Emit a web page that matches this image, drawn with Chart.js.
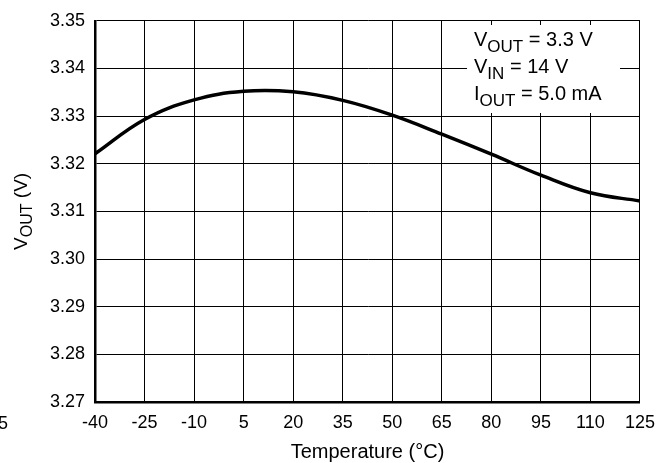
<!DOCTYPE html>
<html>
<head>
<meta charset="utf-8">
<script src="https://cdn.jsdelivr.net/npm/chart.js@4.4.1/dist/chart.umd.min.js"></script>
<style>
  html, body { margin: 0; padding: 0; background: #fff; }
  #wrap { width: 665px; height: 463px; }
</style>
</head>
<body>
<div id="wrap"><canvas id="voutChart"></canvas></div>
<script>
// Output voltage vs. temperature
const temperatures = [-40, -25, -10, 5, 20, 35, 50, 65, 80, 95, 110, 125];
const voutValues = [3.3221, 3.3293, 3.3334, 3.3352, 3.3351, 3.3333, 3.3302, 3.3262, 3.3220, 3.3176, 3.3139, 3.3122];
const xTicks = [-40, -25, -10, 5, 20, 35, 50, 65, 80, 95, 110, 125];
const yTicks = [3.27, 3.28, 3.29, 3.30, 3.31, 3.32, 3.33, 3.34, 3.35];
const conditions = [
    ['V', 'OUT', ' = 3.3 V'],
    ['V', 'IN', ' = 14 V'],
    ['I', 'OUT', ' = 5.0 mA']
];

const FONT = "'Liberation Sans', Arial, Helvetica, sans-serif";

// draws text with a lowered subscript part: [main, sub, rest]
function drawSubText(ctx, parts, x, y, mainSize, subSize, drop) {
    ctx.font = mainSize + 'px ' + FONT;
    ctx.fillText(parts[0], x, y);
    x += ctx.measureText(parts[0]).width;
    ctx.font = subSize + 'px ' + FONT;
    ctx.fillText(parts[1], x, y + drop);
    x += ctx.measureText(parts[1]).width;
    ctx.font = mainSize + 'px ' + FONT;
    ctx.fillText(parts[2], x, y);
}

function subTextWidth(ctx, parts, mainSize, subSize) {
    ctx.font = mainSize + 'px ' + FONT;
    let w = ctx.measureText(parts[0]).width + ctx.measureText(parts[2]).width;
    ctx.font = subSize + 'px ' + FONT;
    return w + ctx.measureText(parts[1]).width;
}

const annotations = {
    id: 'annotations',
    beforeDatasetsDraw(chart) {
        const ctx = chart.ctx;
        // white box behind the test conditions
        ctx.save();
        ctx.fillStyle = '#fff';
        ctx.fillRect(467, 25, 153, 88);
        ctx.restore();
    },
    afterDraw(chart) {
        const ctx = chart.ctx;
        const area = chart.chartArea;
        ctx.save();
        ctx.fillStyle = '#000';
        ctx.textBaseline = 'alphabetic';
        ctx.textAlign = 'left';

        conditions.forEach((parts, i) => {
            drawSubText(ctx, parts, 474, 46 + i * 27, 20, 17, 6);
        });

        // x axis title
        ctx.font = '20px ' + FONT;
        ctx.textAlign = 'center';
        ctx.fillText('Temperature (\u00B0C)', (area.left + area.right) / 2, 458);

        // y axis title, rotated
        ctx.textAlign = 'left';
        const yParts = ['V', 'OUT', ' (V)'];
        const w = subTextWidth(ctx, yParts, 19, 16);
        ctx.translate(27, (area.top + area.bottom) / 2);
        ctx.rotate(-Math.PI / 2);
        drawSubText(ctx, yParts, -w / 2, 0, 19, 16, 5);
        ctx.restore();

        // clipped -55 label at the left edge
        ctx.save();
        ctx.font = '18px ' + FONT;
        ctx.fillStyle = '#000';
        ctx.textAlign = 'right';
        ctx.fillText('5', 8, 429);
        ctx.restore();
    }
};

const ctx = document.getElementById('voutChart');
new Chart(ctx, {
    type: 'line',
    data: {
        datasets: [{
            data: temperatures.map((t, i) => ({ x: t, y: voutValues[i] })),
            borderColor: '#000',
            borderWidth: 3.5,
            pointRadius: 0,
            tension: 0.4,
            fill: false
        }]
    },
    options: {
        responsive: true,
        maintainAspectRatio: false,
        animation: false,
        layout: { padding: { top: 18, right: 23, left: 0, bottom: 0 } },
        plugins: {
            legend: { display: false },
            tooltip: { enabled: false }
        },
        scales: {
            x: {
                type: 'linear',
                min: -40,
                max: 125,
                afterBuildTicks: (scale) => { scale.ticks = xTicks.map(v => ({ value: v })); },
                afterFit: (scale) => { scale.height = 61; },
                grid: { color: '#000', lineWidth: 1, drawTicks: false },
                border: { color: '#000', width: 2.5 },
                ticks: {
                    color: '#000',
                    padding: 10,
                    maxRotation: 0,
                    autoSkip: false,
                    font: { family: FONT, size: 18 }
                }
            },
            y: {
                min: 3.27,
                max: 3.35,
                afterBuildTicks: (scale) => { scale.ticks = yTicks.map(v => ({ value: v })); },
                afterFit: (scale) => { scale.width = 95; },
                grid: { color: '#000', lineWidth: 1, drawTicks: false },
                border: { color: '#000', width: 2.5 },
                ticks: {
                    color: '#000',
                    padding: 10,
                    autoSkip: false,
                    font: { family: FONT, size: 18 },
                    callback: (v) => v.toFixed(2)
                }
            }
        }
    },
    plugins: [annotations]
});
</script>
</body>
</html>
